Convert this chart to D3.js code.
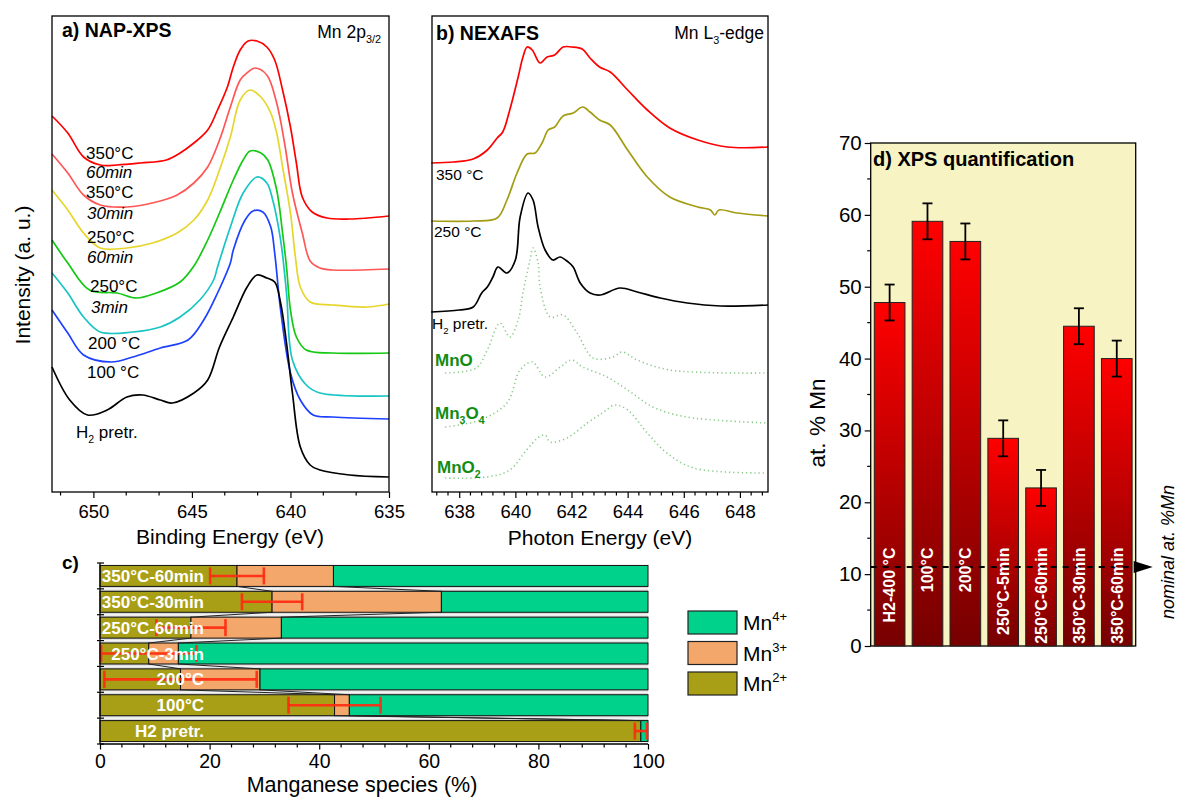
<!DOCTYPE html>
<html><head><meta charset="utf-8">
<script src="https://cdn.jsdelivr.net/npm/d3@7/dist/d3.min.js"></script>
<style>html,body{margin:0;padding:0;background:#fff}svg{display:block}</style>
</head><body>
<svg id="fig" width="1177" height="798"></svg>
<script>
// ================= DATA =================
// Panel a: NAP-XPS Mn 2p3/2 (binding energy eV, intensity a.u. with offsets)
const xpsTicks = [650, 645, 640, 635];
const xps350_60 = [[652.1,376],[651.3,359],[650.5,335],[649.65,327],[648.8,327],[647.6,329],[646.3,332],[645.6,339],[644.9,349],[644.2,362],[643.7,382],[643.2,405],[642.9,425],[642.55,442],[642.15,451],[641.7,451],[641.2,445],[640.8,432],[640.4,402],[640.0,365],[639.7,329],[639.4,295],[638.9,280],[638.15,274],[637.0,273],[635.0,276]];
const xps350_30 = [[652.1,338],[651.3,319],[650.5,297],[649.65,287],[648.3,285],[646.8,290],[645.75,297],[644.9,309],[644.2,325],[643.6,352],[643.05,385],[642.55,412],[642.15,420],[641.8,424],[641.2,417],[640.7,389],[640.3,349],[639.9,299],[639.4,259],[639.0,231],[638.5,224],[637.85,222],[635.0,223]];
const xps250_60 = [[652.1,302],[651.3,282],[650.5,259],[649.65,244],[648.3,244],[647.0,249],[645.75,259],[644.9,272],[644.2,292],[643.6,322],[643.05,355],[642.55,392],[642.05,402],[641.5,395],[641.0,379],[640.7,359],[640.4,325],[640.0,279],[639.75,235],[639.5,205],[639.0,190],[637.85,187],[636.1,185],[635.0,188]];
const xps250_3 = [[652.1,252],[651.3,229],[650.2,202],[648.8,199],[647.8,194],[646.8,199],[645.6,210],[644.9,226],[644.2,252],[643.6,279],[642.9,312],[642.4,332],[642.05,341],[641.5,339],[641.15,332],[640.7,302],[640.4,259],[640.2,225],[640.0,182],[639.7,155],[639.2,142],[637.85,139],[635.0,139]];
const xps200 = [[652.1,219],[651.3,199],[650.5,175],[649.65,160],[648.0,160],[646.6,165],[645.6,175],[644.6,192],[643.9,212],[643.7,225],[643.05,265],[642.4,299],[641.7,315],[641.2,309],[640.9,292],[640.5,252],[640.2,199],[639.9,132],[639.2,107],[638.5,99],[635.0,96]];
const xps100 = [[652.1,182],[651.3,159],[650.5,137],[649.1,130],[648.0,135],[646.6,144],[645.2,152],[644.4,172],[643.7,199],[643.05,229],[642.9,242],[642.3,272],[641.9,281],[641.4,280],[641.0,265],[640.8,239],[640.5,182],[640.0,119],[639.5,92],[638.85,77],[637.85,75],[635.0,73]];
const xpsH2 = [[652.1,125],[651.2,92],[650.3,77],[649.3,82],[648.3,95],[647.5,97],[646.6,92],[646.0,89],[644.9,99],[644.2,112],[643.6,145],[642.9,175],[642.2,205],[641.7,217],[641.2,214],[640.8,210],[640.5,189],[640.2,149],[639.9,99],[639.5,45],[639.0,27],[638.5,22],[637.0,17],[635.0,15]];

// Panel b: NEXAFS Mn L3-edge (photon energy eV, intensity a.u. with offsets)
const nexafsTicks = [638, 640, 642, 644, 646, 648];
const nexafs350 = [[637.0,329],[637.8,330],[638.5,333],[639.0,342],[639.35,354],[639.55,360],[639.8,382],[640.1,415],[640.27,435],[640.42,445],[640.6,442],[640.88,429],[641.13,435],[641.4,437],[641.7,445],[642.0,445],[642.38,443],[642.66,434],[643.0,425],[643.38,420],[644.0,402],[644.7,382],[645.5,364],[646.5,352],[647.55,345],[649.0,345]];
const nexafs250 = [[637.0,271],[638.5,271],[639.35,274],[639.7,292],[640.06,319],[640.42,338],[640.7,339],[640.95,349],[641.17,362],[641.4,365],[641.7,376],[642.06,379],[642.4,385],[642.66,380],[643.0,372],[643.38,367],[644.0,342],[644.7,315],[645.5,295],[646.5,285],[646.95,282],[647.1,277],[647.25,282],[647.9,279],[649.0,276]];
const nexafsH2 = [[637.0,180],[638.0,182],[638.5,185],[638.8,199],[639.0,205],[639.2,215],[639.38,225],[639.7,219],[640.0,232],[640.17,275],[640.45,299],[640.63,292],[640.81,265],[641.06,242],[641.34,232],[641.59,235],[641.88,230],[642.06,225],[642.31,209],[642.66,199],[643.02,197],[643.73,204],[644.34,200],[645.16,194],[646.12,189],[647.3,186],[649.0,187]];
const refMnO = [[637.5,119],[638.6,124],[639.0,142],[639.45,169],[639.8,155],[640.1,172],[640.27,199],[640.52,232],[640.63,244],[640.81,229],[640.88,205],[641.24,175],[641.7,177],[642.2,159],[642.77,134],[643.48,135],[643.8,140],[644.34,132],[645.5,122],[649.0,119]];
const refMn3O4 = [[637.5,65],[638.75,72],[639.7,89],[640.17,122],[640.6,130],[641.06,115],[641.6,125],[642.0,132],[642.4,125],[643.27,115],[644.0,102],[644.9,85],[646.1,75],[649.0,69]];
const refMnO2 = [[637.5,14],[639.0,15],[639.8,22],[640.4,42],[640.8,54],[641.06,57],[641.24,50],[641.84,54],[642.56,69],[643.1,79],[643.55,87],[644.0,82],[644.7,59],[645.4,39],[646.35,24],[648.85,19]];

// Panel c: manganese species (%)
const speciesRows = ["350°C-60min","350°C-30min","250°C-60min","250°C-3min","200°C","100°C","H2 pretr."];
const mn2 = [25.0, 31.4, 16.6, 8.9, 14.7, 42.8, 98.7];
const mn3 = [17.6, 30.9, 16.5, 5.4, 14.5, 2.7, 0.0];
const mn4 = [57.4, 37.7, 66.9, 85.7, 70.8, 54.5, 1.3];
const mn2Err = [4.9, 5.5, 6.3, 8.7, 13.9, 8.4, 1.1];
const speciesTicks = [0, 20, 40, 60, 80, 100];

// Panel d: XPS quantification (at. % Mn)
const quantLabels = ["H2-400 °C","100°C","200°C","250°C-5min","250°C-60min","350°C-30min","350°C-60min"];
const mnAt = [47.8, 59.1, 56.3, 28.9, 22.0, 44.5, 40.0];
const mnAtErr = [2.5, 2.5, 2.5, 2.5, 2.5, 2.5, 2.5];
const quantTicks = [0, 10, 20, 30, 40, 50, 60, 70];
const nominalMn = 11;

// ================= DRAWING =================
const FONT = '"Liberation Sans", Arial, Helvetica, sans-serif';
const svg = d3.select("#fig").attr("font-family", FONT);

function smooth(xs, ys) {
  return d3.line().x(d => xs(d[0])).y(d => ys(d[1])).curve(d3.curveCatmullRom.alpha(0.5));
}
function addText(g, x, y, parts, o = {}) {
  const size = o.size || 16;
  const t = g.append("text").attr("x", x).attr("y", y).attr("font-size", size)
    .attr("font-weight", o.weight || "normal").attr("font-style", o.style || "normal")
    .attr("fill", o.fill || "#000").attr("text-anchor", o.anchor || "start");
  if (o.transform) t.attr("transform", o.transform);
  let shift = 0;
  parts.forEach(p => {
    if (typeof p === "string") p = {t: p};
    const target = p.sub ? 0.3 * size : p.sup ? -0.42 * size : 0;
    const ts = t.append("tspan").text(p.t).attr("dy", target - shift);
    shift = target;
    if (p.sub || p.sup) ts.attr("font-size", size * 0.62);
  });
  return t;
}
function frame(g, xs, ys, fill) {
  const [xa, xb] = d3.extent(xs.range()), [ya, yb] = d3.extent(ys.range());
  return g.append("rect").attr("x", xa).attr("y", ya).attr("width", xb - xa).attr("height", yb - ya)
    .attr("fill", fill || "none").attr("stroke", "#000").attr("stroke-width", 1.3);
}
function styleAxis(sel, size) {
  sel.attr("font-family", FONT);
  sel.selectAll("text").attr("font-size", size).attr("fill", "#000");
  sel.selectAll("line").attr("stroke", "#000").attr("stroke-width", 1.2);
  sel.select(".domain").remove();
}

// ---------- Panel a ----------
const ga = svg.append("g");
const ax = d3.scaleLinear().domain([652.1, 635]).range([52, 389]);
const ay = d3.scaleLinear().domain([0, 476]).range([492, 16]);
const xpsSeries = [
  {values: xps350_60, color: "#ff0000"},
  {values: xps350_30, color: "#ff5656"},
  {values: xps250_60, color: "#e6d62c"},
  {values: xps250_3, color: "#14c814"},
  {values: xps200, color: "#18c4c4"},
  {values: xps100, color: "#1e40ff"},
  {values: xpsH2, color: "#000000"}
];
ga.selectAll("path.xps").data(xpsSeries).join("path").attr("class", "xps")
  .attr("d", d => smooth(ax, ay)(d.values)).attr("fill", "none")
  .attr("stroke", d => d.color).attr("stroke-width", 1.7);
frame(ga, ax, ay);
const axA = ga.append("g").attr("transform", `translate(0,${ay.range()[0]})`)
  .call(d3.axisBottom(ax).tickValues(xpsTicks).tickSize(6).tickPadding(7).tickFormat(d3.format("d")));
styleAxis(axA, 18.5);
const xpsMinor = d3.range(0, 11).map(i => 651.6667 - i * 5 / 3).filter(v => xpsTicks.every(t => Math.abs(t - v) > 0.1));
ga.selectAll("line.mA").data(xpsMinor).join("line").attr("class", "mA")
  .attr("x1", d => ax(d)).attr("x2", d => ax(d)).attr("y1", ay.range()[0]).attr("y2", ay.range()[0] + 3.5)
  .attr("stroke", "#000").attr("stroke-width", 1.2);
addText(ga, 230, 544, ["Binding Energy (eV)"], {size: 21, anchor: "middle"});
addText(ga, 0, 0, ["Intensity (a. u.)"], {size: 21, anchor: "middle", transform: "translate(29.5,275) rotate(-90)"});
addText(ga, 62, 37, ["a) NAP-XPS"], {size: 19.5, weight: "bold"});
addText(ga, 381, 38, ["Mn 2p", {t: "3/2", sub: true}], {size: 17.5, anchor: "end"});
const aLabels = [
  [86, 153, "350°C", "normal"], [86, 172, "60min", "italic"], [86, 192, "350°C", "normal"],
  [87, 213, "30min", "italic"], [87, 237, "250°C", "normal"], [87, 257, "60min", "italic"],
  [90, 286, "250°C", "normal"], [91, 307, "3min", "italic"], [88, 343, "200 °C", "normal"],
  [87, 372, "100 °C", "normal"]
];
aLabels.forEach(l => addText(ga, l[0], l[1] + 6, [l[2]], {size: 17, style: l[3]}));
addText(ga, 76, 438, ["H", {t: "2", sub: true}, " pretr."], {size: 17});

// ---------- Panel b ----------
const gb = svg.append("g");
const bx = d3.scaleLinear().domain([637.03, 649.0]).range([432, 768]);
const by = d3.scaleLinear().domain([0, 476]).range([492, 16]);
const refSeries = [refMnO, refMn3O4, refMnO2];
gb.selectAll("path.ref").data(refSeries).join("path").attr("class", "ref")
  .attr("d", d => smooth(bx, by)(d)).attr("fill", "none")
  .attr("stroke", "#86c986").attr("stroke-width", 1.6).attr("stroke-dasharray", "1.2,3");
const nexSeries = [
  {values: nexafs350, color: "#ff0000"},
  {values: nexafs250, color: "#a39c12"},
  {values: nexafsH2, color: "#000000"}
];
gb.selectAll("path.nex").data(nexSeries).join("path").attr("class", "nex")
  .attr("d", d => smooth(bx, by)(d.values)).attr("fill", "none")
  .attr("stroke", d => d.color).attr("stroke-width", 1.7);
frame(gb, bx, by);
const axB = gb.append("g").attr("transform", `translate(0,${by.range()[0]})`)
  .call(d3.axisBottom(bx).tickValues(nexafsTicks).tickSize(6).tickPadding(7).tickFormat(d3.format("d")));
styleAxis(axB, 18.5);
const nexMinor = d3.range(0, 30).map(i => 637.2 + i * 0.4).filter(v => v < 649 && nexafsTicks.every(t => Math.abs(t - v) > 0.05));
gb.selectAll("line.mB").data(nexMinor).join("line").attr("class", "mB")
  .attr("x1", d => bx(d)).attr("x2", d => bx(d)).attr("y1", by.range()[0]).attr("y2", by.range()[0] + 3.5)
  .attr("stroke", "#000").attr("stroke-width", 1.2);
addText(gb, 600, 545, ["Photon Energy (eV)"], {size: 21, anchor: "middle"});
addText(gb, 436, 40, ["b) NEXAFS"], {size: 19.5, weight: "bold"});
addText(gb, 764, 39, ["Mn L", {t: "3", sub: true}, "-edge"], {size: 17.5, anchor: "end"});
addText(gb, 436, 180, ["350 °C"], {size: 15.5});
addText(gb, 434, 237, ["250 °C"], {size: 15.5});
addText(gb, 432, 329, ["H", {t: "2", sub: true}, " pretr."], {size: 15.5});
const GREEN = "#128c12";
addText(gb, 435, 366, ["MnO"], {size: 17, weight: "bold", fill: GREEN});
addText(gb, 435, 419, ["Mn", {t: "3", sub: true}, "O", {t: "4", sub: true}], {size: 17, weight: "bold", fill: GREEN});
addText(gb, 437, 473, ["MnO", {t: "2", sub: true}], {size: 17, weight: "bold", fill: GREEN});

// ---------- Panel c ----------
const gc = svg.append("g");
const cx = d3.scaleLinear().domain([0, 100]).range([100, 648]);
const cy = d3.scaleBand().domain(speciesRows).range([563, 744]).paddingInner(0.19).paddingOuter(0.095);
const rows = speciesRows.map((r, i) => ({row: r, mn2: mn2[i], mn3: mn3[i], mn4: mn4[i], err: mn2Err[i]}));
const keys = ["mn2", "mn3", "mn4"];
const speciesColor = {mn2: "#a89f17", mn3: "#f4a76a", mn4: "#00d28c"};
const stacked = d3.stack().keys(keys)(rows);
const bw = cy.bandwidth();
// gaps between bars
const gapRows = rows.slice(0, -1).map((r, i) => ({top: cy(r.row) + bw, bottom: cy(rows[i + 1].row)}));
gc.selectAll("rect.gap").data(gapRows).join("rect").attr("class", "gap")
  .attr("x", cx(0)).attr("width", cx(100) - cx(0)).attr("y", d => d.top).attr("height", d => d.bottom - d.top)
  .attr("fill", "#cfcfcf");
gc.selectAll("line.gapc").data(gapRows).join("line").attr("class", "gapc")
  .attr("x1", cx(0)).attr("x2", cx(100)).attr("y1", d => (d.top + d.bottom) / 2).attr("y2", d => (d.top + d.bottom) / 2)
  .attr("stroke", "#f4f4f4").attr("stroke-width", 2);
gc.selectAll("g.layer").data(stacked).join("g").attr("class", "layer")
  .attr("fill", d => speciesColor[d.key])
  .selectAll("rect").data(d => d.filter(s => s[1] - s[0] > 0)).join("rect")
  .attr("x", d => cx(d[0])).attr("width", d => cx(d[1]) - cx(d[0]))
  .attr("y", d => cy(d.data.row)).attr("height", bw)
  .attr("stroke", "#111").attr("stroke-width", 1);
// connector lines between consecutive bars
const connectors = [];
rows.slice(0, -1).forEach((r, i) => {
  const n = rows[i + 1];
  connectors.push({x0: r.mn2, x1: n.mn2, y0: cy(r.row) + bw, y1: cy(n.row)});
  connectors.push({x0: r.mn2 + r.mn3, x1: n.mn2 + n.mn3, y0: cy(r.row) + bw, y1: cy(n.row)});
});
gc.selectAll("line.conn").data(connectors).join("line").attr("class", "conn")
  .attr("x1", d => cx(d.x0)).attr("x2", d => cx(d.x1)).attr("y1", d => d.y0).attr("y2", d => d.y1)
  .attr("stroke", "#222").attr("stroke-width", 1);
// error bars
const ERR = "#ff2a12";
const eb = gc.selectAll("g.err").data(rows).join("g").attr("class", "err")
  .attr("stroke", ERR).attr("stroke-width", 2.6).attr("stroke-opacity", 0.92);
eb.append("line").attr("x1", d => cx(d.mn2 - d.err)).attr("x2", d => cx(d.mn2 + d.err))
  .attr("y1", d => cy(d.row) + bw / 2).attr("y2", d => cy(d.row) + bw / 2);
eb.append("line").attr("x1", d => cx(d.mn2 - d.err)).attr("x2", d => cx(d.mn2 - d.err))
  .attr("y1", d => cy(d.row) + bw / 2 - 8.5).attr("y2", d => cy(d.row) + bw / 2 + 8.5);
eb.append("line").attr("x1", d => cx(d.mn2 + d.err)).attr("x2", d => cx(d.mn2 + d.err))
  .attr("y1", d => cy(d.row) + bw / 2 - 8.5).attr("y2", d => cy(d.row) + bw / 2 + 8.5);
// labels (drawn above the error bars)
gc.selectAll("text.rowlab").data(rows).join("text").attr("class", "rowlab")
  .attr("x", 204).attr("y", d => cy(d.row) + bw / 2).attr("dy", "0.36em")
  .attr("text-anchor", "end").attr("font-size", 17).attr("font-weight", "bold").attr("fill", "#fff")
  .text(d => d.row);
// axes
const cyRange = cy.range();
gc.append("line").attr("x1", cx(0)).attr("x2", cx(0)).attr("y1", cyRange[0]).attr("y2", cyRange[1]).attr("stroke", "#000").attr("stroke-width", 1.3);
gc.append("line").attr("x1", cx(0)).attr("x2", cx(100)).attr("y1", cyRange[1]).attr("y2", cyRange[1]).attr("stroke", "#000").attr("stroke-width", 1.3);
const rowEdges = d3.range(0, speciesRows.length + 1).map(i => cyRange[0] + i * cy.step());
gc.selectAll("line.rtick").data(rowEdges).join("line").attr("class", "rtick")
  .attr("x1", cx(0) - 3).attr("x2", cx(0) + 4).attr("y1", d => d).attr("y2", d => d).attr("stroke", "#000").attr("stroke-width", 1.2);
const axC = gc.append("g").attr("transform", `translate(0,${cyRange[1]})`)
  .call(d3.axisBottom(cx).tickValues(speciesTicks).tickSize(5.5).tickPadding(5).tickFormat(d3.format("d")));
styleAxis(axC, 19.5);
const cMinor = d3.range(0, 101, 4).filter(v => v % 20 !== 0);
gc.selectAll("line.mC").data(cMinor).join("line").attr("class", "mC")
  .attr("x1", d => cx(d)).attr("x2", d => cx(d)).attr("y1", cyRange[1]).attr("y2", cyRange[1] + 3.5)
  .attr("stroke", "#000").attr("stroke-width", 1.2);
addText(gc, 362, 792, ["Manganese species (%)"], {size: 21.5, anchor: "middle"});
addText(gc, 62, 569, ["c)"], {size: 19, weight: "bold"});
// legend
const legendItems = [
  {key: "mn4", sup: "4+"}, {key: "mn3", sup: "3+"}, {key: "mn2", sup: "2+"}
];
const lg = gc.selectAll("g.leg").data(legendItems).join("g").attr("class", "leg")
  .attr("transform", (d, i) => `translate(688,${611 + i * 30.5})`);
lg.append("rect").attr("width", 49).attr("height", 23).attr("fill", d => speciesColor[d.key]).attr("stroke", "#222").attr("stroke-width", 1.2);
lg.each(function(d) { addText(d3.select(this), 55, 19, ["Mn", {t: d.sup, sup: true}], {size: 21}); });

// ---------- Panel d ----------
const gd = svg.append("g");
const dx = d3.scaleBand().domain(quantLabels).range([870.7, 1135.7]).paddingInner(0.19).paddingOuter(0.095);
const dyS = d3.scaleLinear().domain([0, 70]).range([646, 143]);
const defs = svg.append("defs");
const grad = defs.append("linearGradient").attr("id", "barGrad").attr("x1", 0).attr("y1", 0).attr("x2", 0).attr("y2", 1);
grad.append("stop").attr("offset", "0%").attr("stop-color", "#ff0000");
grad.append("stop").attr("offset", "100%").attr("stop-color", "#760000");
frame(gd, dx, dyS, "#f7f3c2");
const quant = quantLabels.map((l, i) => ({label: l, v: mnAt[i], e: mnAtErr[i]}));
gd.selectAll("rect.bar").data(quant).join("rect").attr("class", "bar")
  .attr("x", d => dx(d.label)).attr("width", dx.bandwidth())
  .attr("y", d => dyS(d.v)).attr("height", d => dyS(0) - dyS(d.v))
  .attr("fill", "url(#barGrad)").attr("stroke", "#222").attr("stroke-width", 1);
// nominal line
const yN = dyS(nominalMn), xR = dx.range()[1];
gd.append("line").attr("x1", dx.range()[0]).attr("x2", xR).attr("y1", yN).attr("y2", yN)
  .attr("stroke", "#000").attr("stroke-width", 2).attr("stroke-dasharray", "6,6");
gd.append("path").attr("d", `M${xR - 2},${yN - 6}L${xR + 17},${yN}L${xR - 2},${yN + 6}Z`).attr("fill", "#000");
// bar labels
gd.selectAll("text.blab").data(quant).join("text").attr("class", "blab")
  .attr("transform", d => `translate(${dx(d.label) + dx.bandwidth() / 2},${dyS(13.7)}) rotate(-90)`)
  .attr("dy", "0.36em").attr("text-anchor", "end").attr("font-size", 16).attr("font-weight", "bold")
  .attr("fill", "#fff").text(d => d.label);
// error bars
const ed = gd.selectAll("g.derr").data(quant).join("g").attr("class", "derr").attr("stroke", "#000").attr("stroke-width", 1.8);
ed.append("line").attr("x1", d => dx(d.label) + dx.bandwidth() / 2).attr("x2", d => dx(d.label) + dx.bandwidth() / 2)
  .attr("y1", d => dyS(d.v + d.e)).attr("y2", d => dyS(d.v - d.e));
[1, -1].forEach(s => ed.append("line")
  .attr("x1", d => dx(d.label) + dx.bandwidth() / 2 - 5).attr("x2", d => dx(d.label) + dx.bandwidth() / 2 + 5)
  .attr("y1", d => dyS(d.v + s * d.e)).attr("y2", d => dyS(d.v + s * d.e)));
const axD = gd.append("g").attr("transform", `translate(${dx.range()[0]},0)`)
  .call(d3.axisLeft(dyS).tickValues(quantTicks).tickSize(6).tickPadding(3).tickFormat(d3.format("d")));
styleAxis(axD, 20.5);
const dMinor = d3.range(5, 70, 10);
gd.selectAll("line.mD").data(dMinor).join("line").attr("class", "mD")
  .attr("x1", dx.range()[0] - 3.5).attr("x2", dx.range()[0]).attr("y1", d => dyS(d)).attr("y2", d => dyS(d))
  .attr("stroke", "#000").attr("stroke-width", 1.2);
addText(gd, 873, 166, ["d) XPS quantification"], {size: 20, weight: "bold"});
addText(gd, 0, 0, ["at. % Mn"], {size: 22.5, anchor: "middle", transform: "translate(825,423) rotate(-90)"});
addText(gd, 0, 0, ["nominal at. %Mn"], {size: 18, style: "italic", anchor: "middle", transform: "translate(1174,552) rotate(-90)"});
</script>
</body></html>
